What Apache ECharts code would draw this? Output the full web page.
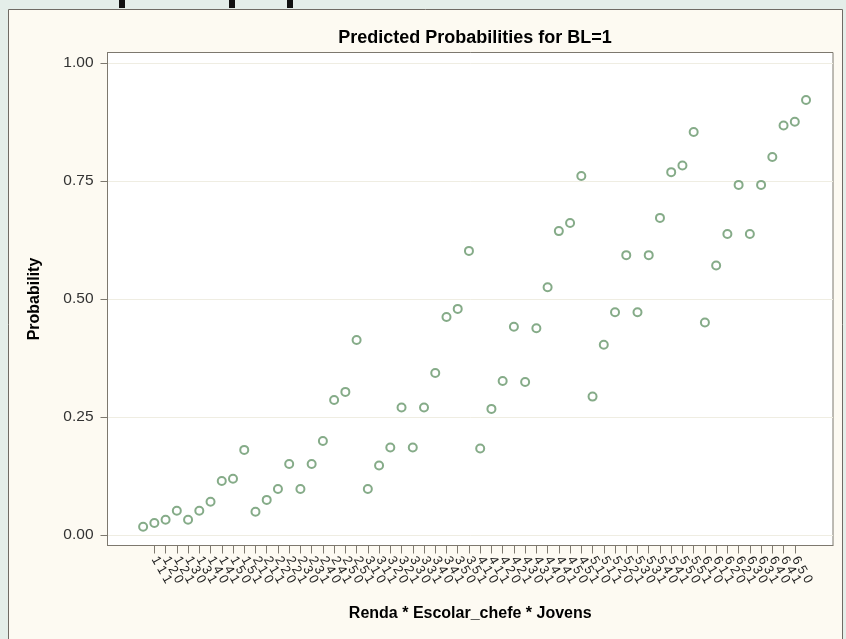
<!DOCTYPE html>
<html>
<head>
<meta charset="utf-8">
<script src="https://cdn.jsdelivr.net/npm/echarts@6/dist/echarts.min.js"></script>
<style>
  html, body { margin: 0; padding: 0; background: #e4eee9; }
  #chart { width: 846px; height: 639px; }
</style>
</head>
<body>
<div id="chart"></div>
<script>
  // class levels: Renda * Escolar_chefe * Jovens
  const rendaLevels = [1, 2, 3, 4, 5, 6];
  const escolarLevels = [1, 2, 3, 4, 5];
  const jovensLevels = [0, 1];

  // predicted probabilities, one per combination, in axis order
  const probRenda1 = [0.017, 0.025, 0.032, 0.051, 0.032, 0.051, 0.070, 0.114, 0.119, 0.180];
  const probRenda2 = [0.049, 0.074, 0.097, 0.150, 0.097, 0.150, 0.199, 0.286, 0.303, 0.413];
  const probRenda3 = [0.097, 0.147, 0.185, 0.270, 0.185, 0.270, 0.343, 0.462, 0.479, 0.602];
  const probRenda4 = [0.183, 0.267, 0.326, 0.441, 0.324, 0.438, 0.525, 0.644, 0.661, 0.761];
  const probRenda5 = [0.293, 0.403, 0.472, 0.593, 0.472, 0.593, 0.672, 0.769, 0.783, 0.854];
  const probRenda6 = [0.450, 0.571, 0.638, 0.742, 0.638, 0.742, 0.801, 0.868, 0.876, 0.922];

  const yTicks = [0, 0.25, 0.5, 0.75, 1];

  const categories = [];
  rendaLevels.forEach(r => escolarLevels.forEach(e => jovensLevels.forEach(j => {
    categories.push(r + ' ' + e + ' ' + j);
  })));
  const probs = [].concat(probRenda1, probRenda2, probRenda3, probRenda4, probRenda5, probRenda6);
  const positions = categories.map((c, i) => i + 1);
  const points = probs.map((p, i) => [i + 1, p]);

  const font = '"Liberation Sans", Arial, sans-serif';
  const frameColor = '#7d786e';

  const chart = echarts.init(document.getElementById('chart'));
  chart.setOption({
    backgroundColor: 'transparent',
    animation: false,
    textStyle: { fontFamily: font },
    graphic: [
      {
        type: 'rect', z: -10, silent: true,
        shape: { x: 8.5, y: 9.5, width: 834, height: 640 },
        style: { fill: '#fdfaf2', stroke: '#6f6b64', lineWidth: 1 }
      },
      { type: 'rect', z: -10, silent: true, shape: { x: 119, y: 0, width: 6, height: 8 }, style: { fill: '#111' } },
      { type: 'rect', z: -10, silent: true, shape: { x: 229, y: 0, width: 6, height: 8 }, style: { fill: '#111' } },
      { type: 'rect', z: -10, silent: true, shape: { x: 287, y: 0, width: 6, height: 8 }, style: { fill: '#111' } }
    ],
    title: {
      text: 'Predicted Probabilities for BL=1',
      left: 470,
      textAlign: 'center',
      top: 24,
      textStyle: { fontSize: 18, fontWeight: 'bold', color: '#000', fontFamily: font }
    },
    grid: {
      left: 107.5,
      top: 52.5,
      right: 13,
      bottom: 93.5,
      show: true,
      backgroundColor: '#ffffff',
      borderColor: frameColor,
      borderWidth: 1
    },
    xAxis: {
      type: 'value',
      min: -2.17,
      max: 62.4,
      name: 'Renda * Escolar_chefe * Jovens',
      nameLocation: 'middle',
      nameGap: 60,
      nameTextStyle: { fontSize: 16, fontWeight: 'bold', color: '#000', fontFamily: font },
      axisLine: { show: true, onZero: false, lineStyle: { color: frameColor, width: 1 } },
      axisTick: { show: true, customValues: positions, length: 8, lineStyle: { color: frameColor } },
      axisLabel: {
        customValues: positions,
        formatter: v => categories[Math.round(v) - 1] || '',
        rotate: -60,
        fontSize: 13,
        margin: 12,
        color: '#222',
        fontFamily: font
      },
      splitLine: { show: false }
    },
    yAxis: {
      type: 'value',
      min: -0.0227,
      max: 1.0227,
      name: 'Probability',
      nameLocation: 'middle',
      nameGap: 65,
      nameTextStyle: { fontSize: 16, fontWeight: 'bold', color: '#000', fontFamily: font },
      axisLine: { show: true, onZero: false, lineStyle: { color: frameColor, width: 1 } },
      axisTick: { show: true, customValues: yTicks, length: 7, lineStyle: { color: frameColor } },
      axisLabel: {
        customValues: yTicks,
        formatter: v => v.toFixed(2),
        fontSize: 15.5,
        margin: 14,
        color: '#333',
        fontFamily: font
      },
      splitLine: { show: true, lineStyle: { color: '#efede2', width: 1 } }
    },
    series: [{
      type: 'scatter',
      symbol: 'emptyCircle',
      symbolSize: 8,
      itemStyle: { color: '#66966a', borderWidth: 1.5 },
      data: points
    }]
  });
</script>
</body>
</html>
